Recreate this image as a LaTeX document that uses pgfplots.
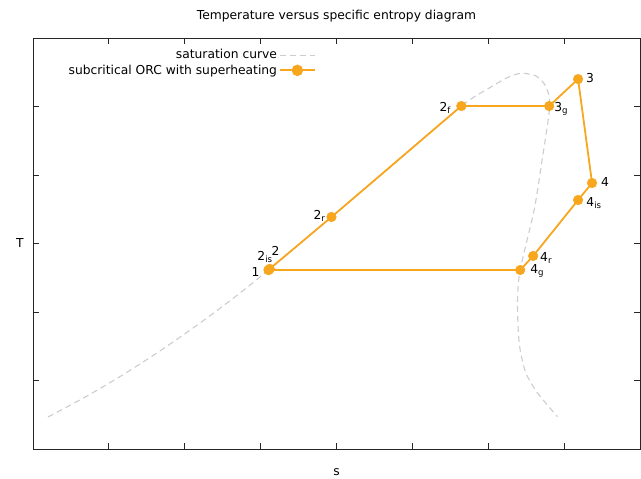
\documentclass[border=0pt]{standalone}
\usepackage{pgfplots}
\pgfplotsset{compat=1.18}
\usepackage{fontspec}
\setmainfont{DejaVu Sans}
\definecolor{cyc}{RGB}{247,166,30}
\definecolor{sat}{RGB}{205,205,205}
\begin{document}
\fontsize{12.3bp}{14bp}\selectfont
\begin{tikzpicture}
\path[use as bounding box] (-33bp,-30bp) rectangle (608bp,449bp);
\begin{axis}[
  scale only axis,
  width=607bp, height=411bp,
  xmin=0, xmax=8, ymin=0, ymax=6,
  xtick={1,...,7}, ytick={1,...,5},
  xticklabels={}, yticklabels={},
  tick align=inside,
  major tick length=6bp,
  axis line style={line width=0.9pt, black!85},
  every tick/.style={line width=0.8pt, black!85},
  legend plot pos=right,
  legend cell align=right,
  legend style={at={(axis description cs:0.4695,0.982)}, anchor=north east, draw=none, fill=none,
    font=\fontsize{12.3bp}{14bp}\selectfont, row sep=0bp, inner sep=2bp},
  clip=false,
]
\addplot[sat, line width=1.1pt, dash pattern=on 6bp off 4bp, smooth, tension=0.45,
  legend image code/.code={\draw[sat, line width=1.1pt, dash pattern=on 6bp off 4bp] (0bp,0bp) -- (35bp,0bp);}]
coordinates {
(0.197,0.467) (0.684,0.756) (1.171,1.074) (1.658,1.420) (2.145,1.794) (2.632,2.195) (3.105,2.613)
(3.934,3.387) (4.80,4.20) (5.645,5.007) (6.013,5.27) (6.25,5.42) (6.43,5.485) (6.63,5.445) (6.76,5.29) (6.81,5.0)
(6.71,4.22) (6.605,3.49) (6.42,2.613) (6.386,2.175) (6.395,1.737) (6.421,1.445) (6.496,1.109) (6.649,0.818) (6.912,0.472)
};
\addlegendentry{saturation curve}
\addplot[cyc, line width=1.8pt, mark=*, mark size=4.8bp, mark options={fill=cyc, draw=cyc, line width=0.5pt},
  legend image code/.code={\draw[cyc, line width=1.8pt] (0bp,0bp) -- (35bp,0bp); \fill[cyc] (17.5bp,0bp) circle (4.8bp);}]
coordinates {
(3.105,2.613) (3.12,2.63) (3.934,3.387) (5.645,5.007) (6.803,5.007) (7.184,5.40) (7.368,3.883) (7.184,3.635) (6.592,2.818) (6.421,2.613) (3.105,2.613)
};
\addlegendentry{subcritical ORC with superheating}
\node at (axis cs:2.934,2.584) {1};
\node at (axis cs:3.059,2.803) {2\textsubscript{is}};
\node at (axis cs:3.197,2.891) {2};
\node at (axis cs:3.776,3.401) {2\textsubscript{r}};
\node at (axis cs:5.434,4.978) {2\textsubscript{f}};
\node at (axis cs:6.961,4.964) {3\textsubscript{g}};
\node at (axis cs:7.342,5.416) {3};
\node at (axis cs:7.539,3.898) {4};
\node at (axis cs:7.395,3.591) {4\textsubscript{is}};
\node at (axis cs:6.763,2.788) {4\textsubscript{r}};
\node at (axis cs:6.645,2.599) {4\textsubscript{g}};
\node at (axis description cs:0.5,1) [yshift=22bp] {Temperature versus specific entropy diagram};
\node at (axis description cs:0.5,0) [yshift=-23bp] {s};
\node at (axis description cs:0,0.5) [xshift=-13bp] {T};
\end{axis}
\end{tikzpicture}
\end{document}
